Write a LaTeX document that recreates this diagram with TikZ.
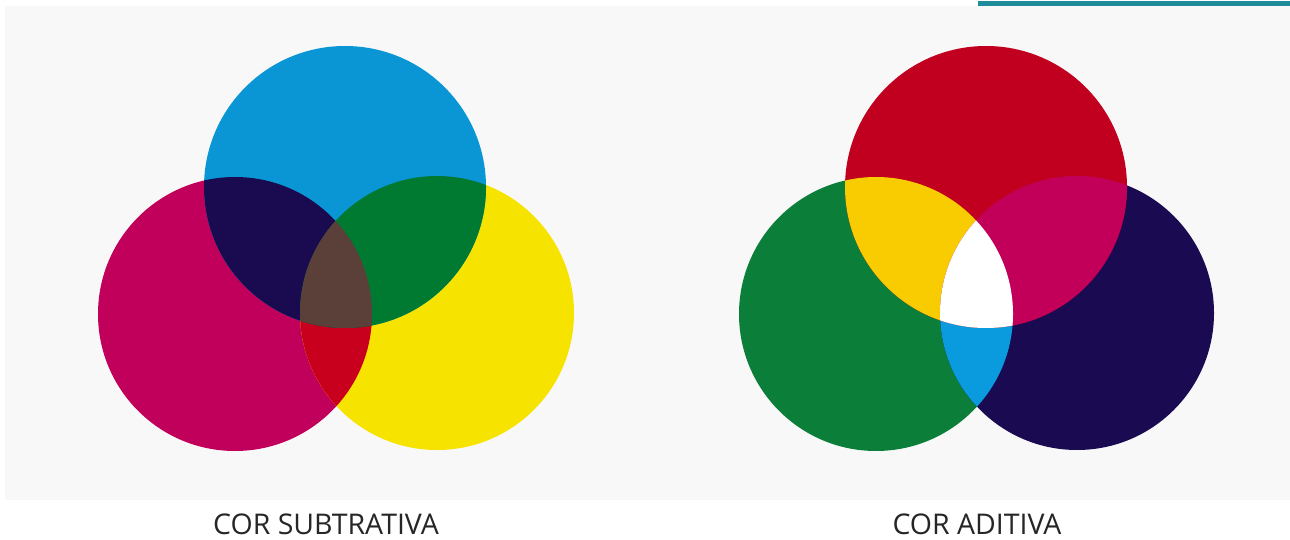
\documentclass[tikz,border=0pt]{standalone}
\usepackage{fontspec}
\setmainfont{Open Sans}
\definecolor{bg}{HTML}{F8F8F8}
\definecolor{teal}{HTML}{1F8C9B}
\definecolor{scyan}{HTML}{0A95D5}
\definecolor{smag}{HTML}{C0005A}
\definecolor{syel}{HTML}{F7E300}
\definecolor{snavy}{HTML}{1A0A50}
\definecolor{sgreen}{HTML}{007A30}
\definecolor{sred}{HTML}{C8001E}
\definecolor{sbrown}{HTML}{5A4038}
\definecolor{ared}{HTML}{C0001E}
\definecolor{agreen}{HTML}{0B7F3A}
\definecolor{ablue}{HTML}{1A0A52}
\definecolor{ayel}{HTML}{F8CC00}
\definecolor{amag}{HTML}{C2005A}
\definecolor{acyan}{HTML}{0A9ADE}
\tikzset{label/.style={font=\fontsize{28.5}{34}\selectfont, text=black!85, inner sep=0pt, anchor=base}}
\begin{document}
\begin{tikzpicture}[x=1pt,y=-1pt]
\useasboundingbox (0,0) rectangle (1290,540);
\fill[white] (0,0) rectangle (1290,540);
\fill[bg] (5,6) rectangle (1290,500);
\fill[teal] (978,1) rectangle (1290,6);
% subtractive
\coordinate (C) at (345,187);
\coordinate (M) at (235,314);
\coordinate (Y) at (437,313);
\def\rc{141}\def\rm{137}\def\ry{137}
\fill[smag] (M) circle (\rm);
\fill[syel] (Y) circle (\ry);
\fill[scyan] (C) circle (\rc);
\begin{scope}\clip (M) circle (\rm); \fill[sred] (Y) circle (\ry); \end{scope}
\begin{scope}\clip (C) circle (\rc); \fill[snavy] (M) circle (\rm); \end{scope}
\begin{scope}\clip (C) circle (\rc); \fill[sgreen] (Y) circle (\ry); \end{scope}
\begin{scope}\clip (C) circle (\rc); \clip (M) circle (\rm); \fill[sbrown] (Y) circle (\ry); \end{scope}
% additive
\coordinate (R) at (986,187);
\coordinate (G) at (876,314);
\coordinate (B) at (1077,313);
\fill[agreen] (G) circle (\rm);
\fill[ablue] (B) circle (\ry);
\fill[ared] (R) circle (\rc);
\begin{scope}\clip (G) circle (\rm); \fill[acyan] (B) circle (\ry); \end{scope}
\begin{scope}\clip (R) circle (\rc); \fill[ayel] (G) circle (\rm); \end{scope}
\begin{scope}\clip (R) circle (\rc); \fill[amag] (B) circle (\ry); \end{scope}
\begin{scope}\clip (R) circle (\rc); \clip (G) circle (\rm); \fill[white] (B) circle (\ry); \end{scope}
\node[label] (ls) at (326,534) {COR SUBTRATIVA};
\node[label] (la) at (977,534) {COR ADITIVA};
\end{tikzpicture}
\end{document}
